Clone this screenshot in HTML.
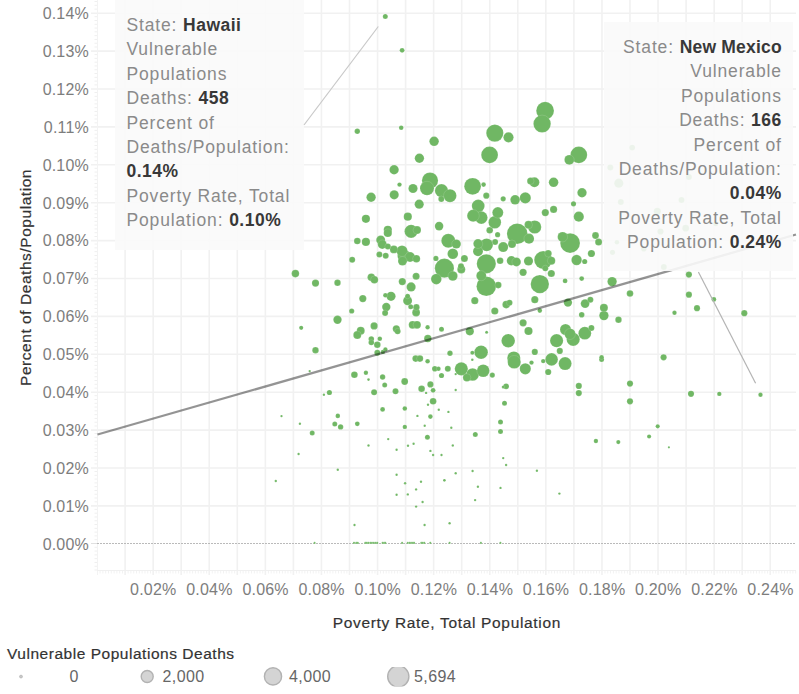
<!DOCTYPE html>
<html><head><meta charset="utf-8"><style>
*{margin:0;padding:0;box-sizing:border-box}
html,body{width:799px;height:694px;background:#fff;overflow:hidden;font-family:"Liberation Sans",sans-serif}
svg{position:absolute;left:0;top:0}
.yt{position:absolute;left:0;width:89px;text-align:right;font-size:16px;line-height:18px;color:#7d7d7d;letter-spacing:0.2px}
.xt{position:absolute;top:580.5px;width:80px;text-align:center;font-size:16px;line-height:18px;color:#7d7d7d;letter-spacing:0.2px}
.tt{position:absolute;background:rgba(249,249,249,0.9);font-size:17.5px;line-height:24.4px;color:#8a8a8a;white-space:nowrap;letter-spacing:0.85px}
.tt b{color:#383838;font-weight:bold;letter-spacing:0.5px}
.lg{position:absolute;top:668.1px;font-size:16px;line-height:18px;color:#666;letter-spacing:0.4px}
.ti{position:absolute;font-size:15.5px;line-height:20px;color:#333;white-space:nowrap;letter-spacing:0.6px;-webkit-text-stroke:0.2px #333}
</style></head><body>
<svg width="799" height="694">
<g stroke="#f1f1f1" stroke-width="1.6"><line x1="125.1" y1="0" x2="125.1" y2="575"/><line x1="153.15" y1="0" x2="153.15" y2="575"/><line x1="181.2" y1="0" x2="181.2" y2="575"/><line x1="209.25" y1="0" x2="209.25" y2="575"/><line x1="237.3" y1="0" x2="237.3" y2="575"/><line x1="265.35" y1="0" x2="265.35" y2="575"/><line x1="293.4" y1="0" x2="293.4" y2="575"/><line x1="321.45" y1="0" x2="321.45" y2="575"/><line x1="349.5" y1="0" x2="349.5" y2="575"/><line x1="377.55" y1="0" x2="377.55" y2="575"/><line x1="405.6" y1="0" x2="405.6" y2="575"/><line x1="433.65" y1="0" x2="433.65" y2="575"/><line x1="461.7" y1="0" x2="461.7" y2="575"/><line x1="489.75" y1="0" x2="489.75" y2="575"/><line x1="517.8" y1="0" x2="517.8" y2="575"/><line x1="545.85" y1="0" x2="545.85" y2="575"/><line x1="573.9" y1="0" x2="573.9" y2="575"/><line x1="601.95" y1="0" x2="601.95" y2="575"/><line x1="630.0" y1="0" x2="630.0" y2="575"/><line x1="658.05" y1="0" x2="658.05" y2="575"/><line x1="686.1" y1="0" x2="686.1" y2="575"/><line x1="714.15" y1="0" x2="714.15" y2="575"/><line x1="742.2" y1="0" x2="742.2" y2="575"/><line x1="770.25" y1="0" x2="770.25" y2="575"/><line x1="91" y1="505.9" x2="796" y2="505.9"/><line x1="91" y1="468.0" x2="796" y2="468.0"/><line x1="91" y1="430.1" x2="796" y2="430.1"/><line x1="91" y1="392.2" x2="796" y2="392.2"/><line x1="91" y1="354.3" x2="796" y2="354.3"/><line x1="91" y1="316.4" x2="796" y2="316.4"/><line x1="91" y1="278.5" x2="796" y2="278.5"/><line x1="91" y1="240.6" x2="796" y2="240.6"/><line x1="91" y1="202.7" x2="796" y2="202.7"/><line x1="91" y1="164.8" x2="796" y2="164.8"/><line x1="91" y1="126.9" x2="796" y2="126.9"/><line x1="91" y1="89.0" x2="796" y2="89.0"/><line x1="91" y1="51.1" x2="796" y2="51.1"/><line x1="91" y1="13.2" x2="796" y2="13.2"/></g>
<line x1="97.5" y1="0" x2="97.5" y2="575" stroke="#f3f3f3" stroke-width="1"/><g stroke="#efefef" stroke-width="1"><line x1="94.5" y1="570.03" x2="97" y2="570.03"/><line x1="94.5" y1="566.24" x2="97" y2="566.24"/><line x1="94.5" y1="562.45" x2="97" y2="562.45"/><line x1="94.5" y1="558.66" x2="97" y2="558.66"/><line x1="94.5" y1="554.87" x2="97" y2="554.87"/><line x1="94.5" y1="551.08" x2="97" y2="551.08"/><line x1="94.5" y1="547.29" x2="97" y2="547.29"/><line x1="94.5" y1="539.71" x2="97" y2="539.71"/><line x1="94.5" y1="535.92" x2="97" y2="535.92"/><line x1="94.5" y1="532.13" x2="97" y2="532.13"/><line x1="94.5" y1="528.34" x2="97" y2="528.34"/><line x1="94.5" y1="524.55" x2="97" y2="524.55"/><line x1="94.5" y1="520.76" x2="97" y2="520.76"/><line x1="94.5" y1="516.97" x2="97" y2="516.97"/><line x1="94.5" y1="513.18" x2="97" y2="513.18"/><line x1="94.5" y1="509.39" x2="97" y2="509.39"/><line x1="94.5" y1="501.81" x2="97" y2="501.81"/><line x1="94.5" y1="498.02" x2="97" y2="498.02"/><line x1="94.5" y1="494.23" x2="97" y2="494.23"/><line x1="94.5" y1="490.44" x2="97" y2="490.44"/><line x1="94.5" y1="486.65" x2="97" y2="486.65"/><line x1="94.5" y1="482.86" x2="97" y2="482.86"/><line x1="94.5" y1="479.07" x2="97" y2="479.07"/><line x1="94.5" y1="475.28" x2="97" y2="475.28"/><line x1="94.5" y1="471.49" x2="97" y2="471.49"/><line x1="94.5" y1="463.91" x2="97" y2="463.91"/><line x1="94.5" y1="460.12" x2="97" y2="460.12"/><line x1="94.5" y1="456.33" x2="97" y2="456.33"/><line x1="94.5" y1="452.54" x2="97" y2="452.54"/><line x1="94.5" y1="448.75" x2="97" y2="448.75"/><line x1="94.5" y1="444.96" x2="97" y2="444.96"/><line x1="94.5" y1="441.17" x2="97" y2="441.17"/><line x1="94.5" y1="437.38" x2="97" y2="437.38"/><line x1="94.5" y1="433.59" x2="97" y2="433.59"/><line x1="94.5" y1="426.01" x2="97" y2="426.01"/><line x1="94.5" y1="422.22" x2="97" y2="422.22"/><line x1="94.5" y1="418.43" x2="97" y2="418.43"/><line x1="94.5" y1="414.64" x2="97" y2="414.64"/><line x1="94.5" y1="410.85" x2="97" y2="410.85"/><line x1="94.5" y1="407.06" x2="97" y2="407.06"/><line x1="94.5" y1="403.27" x2="97" y2="403.27"/><line x1="94.5" y1="399.48" x2="97" y2="399.48"/><line x1="94.5" y1="395.69" x2="97" y2="395.69"/><line x1="94.5" y1="388.11" x2="97" y2="388.11"/><line x1="94.5" y1="384.32" x2="97" y2="384.32"/><line x1="94.5" y1="380.53" x2="97" y2="380.53"/><line x1="94.5" y1="376.74" x2="97" y2="376.74"/><line x1="94.5" y1="372.95" x2="97" y2="372.95"/><line x1="94.5" y1="369.16" x2="97" y2="369.16"/><line x1="94.5" y1="365.37" x2="97" y2="365.37"/><line x1="94.5" y1="361.58" x2="97" y2="361.58"/><line x1="94.5" y1="357.79" x2="97" y2="357.79"/><line x1="94.5" y1="350.21" x2="97" y2="350.21"/><line x1="94.5" y1="346.42" x2="97" y2="346.42"/><line x1="94.5" y1="342.63" x2="97" y2="342.63"/><line x1="94.5" y1="338.84" x2="97" y2="338.84"/><line x1="94.5" y1="335.05" x2="97" y2="335.05"/><line x1="94.5" y1="331.26" x2="97" y2="331.26"/><line x1="94.5" y1="327.47" x2="97" y2="327.47"/><line x1="94.5" y1="323.68" x2="97" y2="323.68"/><line x1="94.5" y1="319.89" x2="97" y2="319.89"/><line x1="94.5" y1="312.31" x2="97" y2="312.31"/><line x1="94.5" y1="308.52" x2="97" y2="308.52"/><line x1="94.5" y1="304.73" x2="97" y2="304.73"/><line x1="94.5" y1="300.94" x2="97" y2="300.94"/><line x1="94.5" y1="297.15" x2="97" y2="297.15"/><line x1="94.5" y1="293.36" x2="97" y2="293.36"/><line x1="94.5" y1="289.57" x2="97" y2="289.57"/><line x1="94.5" y1="285.78" x2="97" y2="285.78"/><line x1="94.5" y1="281.99" x2="97" y2="281.99"/><line x1="94.5" y1="274.41" x2="97" y2="274.41"/><line x1="94.5" y1="270.62" x2="97" y2="270.62"/><line x1="94.5" y1="266.83" x2="97" y2="266.83"/><line x1="94.5" y1="263.04" x2="97" y2="263.04"/><line x1="94.5" y1="259.25" x2="97" y2="259.25"/><line x1="94.5" y1="255.46" x2="97" y2="255.46"/><line x1="94.5" y1="251.67" x2="97" y2="251.67"/><line x1="94.5" y1="247.88" x2="97" y2="247.88"/><line x1="94.5" y1="244.09" x2="97" y2="244.09"/><line x1="94.5" y1="236.51" x2="97" y2="236.51"/><line x1="94.5" y1="232.72" x2="97" y2="232.72"/><line x1="94.5" y1="228.93" x2="97" y2="228.93"/><line x1="94.5" y1="225.14" x2="97" y2="225.14"/><line x1="94.5" y1="221.35" x2="97" y2="221.35"/><line x1="94.5" y1="217.56" x2="97" y2="217.56"/><line x1="94.5" y1="213.77" x2="97" y2="213.77"/><line x1="94.5" y1="209.98" x2="97" y2="209.98"/><line x1="94.5" y1="206.19" x2="97" y2="206.19"/><line x1="94.5" y1="198.61" x2="97" y2="198.61"/><line x1="94.5" y1="194.82" x2="97" y2="194.82"/><line x1="94.5" y1="191.03" x2="97" y2="191.03"/><line x1="94.5" y1="187.24" x2="97" y2="187.24"/><line x1="94.5" y1="183.45" x2="97" y2="183.45"/><line x1="94.5" y1="179.66" x2="97" y2="179.66"/><line x1="94.5" y1="175.87" x2="97" y2="175.87"/><line x1="94.5" y1="172.08" x2="97" y2="172.08"/><line x1="94.5" y1="168.29" x2="97" y2="168.29"/><line x1="94.5" y1="160.71" x2="97" y2="160.71"/><line x1="94.5" y1="156.92" x2="97" y2="156.92"/><line x1="94.5" y1="153.13" x2="97" y2="153.13"/><line x1="94.5" y1="149.34" x2="97" y2="149.34"/><line x1="94.5" y1="145.55" x2="97" y2="145.55"/><line x1="94.5" y1="141.76" x2="97" y2="141.76"/><line x1="94.5" y1="137.97" x2="97" y2="137.97"/><line x1="94.5" y1="134.18" x2="97" y2="134.18"/><line x1="94.5" y1="130.39" x2="97" y2="130.39"/><line x1="94.5" y1="122.81" x2="97" y2="122.81"/><line x1="94.5" y1="119.02" x2="97" y2="119.02"/><line x1="94.5" y1="115.23" x2="97" y2="115.23"/><line x1="94.5" y1="111.44" x2="97" y2="111.44"/><line x1="94.5" y1="107.65" x2="97" y2="107.65"/><line x1="94.5" y1="103.86" x2="97" y2="103.86"/><line x1="94.5" y1="100.07" x2="97" y2="100.07"/><line x1="94.5" y1="96.28" x2="97" y2="96.28"/><line x1="94.5" y1="92.49" x2="97" y2="92.49"/><line x1="94.5" y1="84.91" x2="97" y2="84.91"/><line x1="94.5" y1="81.12" x2="97" y2="81.12"/><line x1="94.5" y1="77.33" x2="97" y2="77.33"/><line x1="94.5" y1="73.54" x2="97" y2="73.54"/><line x1="94.5" y1="69.75" x2="97" y2="69.75"/><line x1="94.5" y1="65.96" x2="97" y2="65.96"/><line x1="94.5" y1="62.17" x2="97" y2="62.17"/><line x1="94.5" y1="58.38" x2="97" y2="58.38"/><line x1="94.5" y1="54.59" x2="97" y2="54.59"/><line x1="94.5" y1="47.01" x2="97" y2="47.01"/><line x1="94.5" y1="43.22" x2="97" y2="43.22"/><line x1="94.5" y1="39.43" x2="97" y2="39.43"/><line x1="94.5" y1="35.64" x2="97" y2="35.64"/><line x1="94.5" y1="31.85" x2="97" y2="31.85"/><line x1="94.5" y1="28.06" x2="97" y2="28.06"/><line x1="94.5" y1="24.27" x2="97" y2="24.27"/><line x1="94.5" y1="20.48" x2="97" y2="20.48"/><line x1="94.5" y1="16.69" x2="97" y2="16.69"/><line x1="94.5" y1="9.11" x2="97" y2="9.11"/><line x1="94.5" y1="5.32" x2="97" y2="5.32"/><line x1="94.5" y1="1.53" x2="97" y2="1.53"/></g>
<line x1="97" y1="570.5" x2="796" y2="570.5" stroke="#f0f0f0" stroke-width="1"/><g stroke="#f2f2f2" stroke-width="1"><line x1="100.06" y1="571" x2="100.06" y2="573.5"/><line x1="102.86" y1="571" x2="102.86" y2="573.5"/><line x1="105.67" y1="571" x2="105.67" y2="573.5"/><line x1="108.47" y1="571" x2="108.47" y2="573.5"/><line x1="111.28" y1="571" x2="111.28" y2="573.5"/><line x1="114.08" y1="571" x2="114.08" y2="573.5"/><line x1="116.88" y1="571" x2="116.88" y2="573.5"/><line x1="119.69" y1="571" x2="119.69" y2="573.5"/><line x1="122.50" y1="571" x2="122.50" y2="573.5"/><line x1="128.10" y1="571" x2="128.10" y2="573.5"/><line x1="130.91" y1="571" x2="130.91" y2="573.5"/><line x1="133.72" y1="571" x2="133.72" y2="573.5"/><line x1="136.52" y1="571" x2="136.52" y2="573.5"/><line x1="139.32" y1="571" x2="139.32" y2="573.5"/><line x1="142.13" y1="571" x2="142.13" y2="573.5"/><line x1="144.94" y1="571" x2="144.94" y2="573.5"/><line x1="147.74" y1="571" x2="147.74" y2="573.5"/><line x1="150.55" y1="571" x2="150.55" y2="573.5"/><line x1="156.16" y1="571" x2="156.16" y2="573.5"/><line x1="158.96" y1="571" x2="158.96" y2="573.5"/><line x1="161.76" y1="571" x2="161.76" y2="573.5"/><line x1="164.57" y1="571" x2="164.57" y2="573.5"/><line x1="167.38" y1="571" x2="167.38" y2="573.5"/><line x1="170.18" y1="571" x2="170.18" y2="573.5"/><line x1="172.99" y1="571" x2="172.99" y2="573.5"/><line x1="175.79" y1="571" x2="175.79" y2="573.5"/><line x1="178.59" y1="571" x2="178.59" y2="573.5"/><line x1="184.21" y1="571" x2="184.21" y2="573.5"/><line x1="187.01" y1="571" x2="187.01" y2="573.5"/><line x1="189.81" y1="571" x2="189.81" y2="573.5"/><line x1="192.62" y1="571" x2="192.62" y2="573.5"/><line x1="195.43" y1="571" x2="195.43" y2="573.5"/><line x1="198.23" y1="571" x2="198.23" y2="573.5"/><line x1="201.04" y1="571" x2="201.04" y2="573.5"/><line x1="203.84" y1="571" x2="203.84" y2="573.5"/><line x1="206.65" y1="571" x2="206.65" y2="573.5"/><line x1="212.25" y1="571" x2="212.25" y2="573.5"/><line x1="215.06" y1="571" x2="215.06" y2="573.5"/><line x1="217.87" y1="571" x2="217.87" y2="573.5"/><line x1="220.67" y1="571" x2="220.67" y2="573.5"/><line x1="223.47" y1="571" x2="223.47" y2="573.5"/><line x1="226.28" y1="571" x2="226.28" y2="573.5"/><line x1="229.09" y1="571" x2="229.09" y2="573.5"/><line x1="231.89" y1="571" x2="231.89" y2="573.5"/><line x1="234.69" y1="571" x2="234.69" y2="573.5"/><line x1="240.31" y1="571" x2="240.31" y2="573.5"/><line x1="243.11" y1="571" x2="243.11" y2="573.5"/><line x1="245.92" y1="571" x2="245.92" y2="573.5"/><line x1="248.72" y1="571" x2="248.72" y2="573.5"/><line x1="251.53" y1="571" x2="251.53" y2="573.5"/><line x1="254.33" y1="571" x2="254.33" y2="573.5"/><line x1="257.13" y1="571" x2="257.13" y2="573.5"/><line x1="259.94" y1="571" x2="259.94" y2="573.5"/><line x1="262.75" y1="571" x2="262.75" y2="573.5"/><line x1="268.36" y1="571" x2="268.36" y2="573.5"/><line x1="271.16" y1="571" x2="271.16" y2="573.5"/><line x1="273.97" y1="571" x2="273.97" y2="573.5"/><line x1="276.77" y1="571" x2="276.77" y2="573.5"/><line x1="279.57" y1="571" x2="279.57" y2="573.5"/><line x1="282.38" y1="571" x2="282.38" y2="573.5"/><line x1="285.19" y1="571" x2="285.19" y2="573.5"/><line x1="287.99" y1="571" x2="287.99" y2="573.5"/><line x1="290.80" y1="571" x2="290.80" y2="573.5"/><line x1="296.40" y1="571" x2="296.40" y2="573.5"/><line x1="299.21" y1="571" x2="299.21" y2="573.5"/><line x1="302.01" y1="571" x2="302.01" y2="573.5"/><line x1="304.82" y1="571" x2="304.82" y2="573.5"/><line x1="307.62" y1="571" x2="307.62" y2="573.5"/><line x1="310.43" y1="571" x2="310.43" y2="573.5"/><line x1="313.24" y1="571" x2="313.24" y2="573.5"/><line x1="316.04" y1="571" x2="316.04" y2="573.5"/><line x1="318.85" y1="571" x2="318.85" y2="573.5"/><line x1="324.46" y1="571" x2="324.46" y2="573.5"/><line x1="327.26" y1="571" x2="327.26" y2="573.5"/><line x1="330.06" y1="571" x2="330.06" y2="573.5"/><line x1="332.87" y1="571" x2="332.87" y2="573.5"/><line x1="335.68" y1="571" x2="335.68" y2="573.5"/><line x1="338.48" y1="571" x2="338.48" y2="573.5"/><line x1="341.28" y1="571" x2="341.28" y2="573.5"/><line x1="344.09" y1="571" x2="344.09" y2="573.5"/><line x1="346.90" y1="571" x2="346.90" y2="573.5"/><line x1="352.50" y1="571" x2="352.50" y2="573.5"/><line x1="355.31" y1="571" x2="355.31" y2="573.5"/><line x1="358.12" y1="571" x2="358.12" y2="573.5"/><line x1="360.92" y1="571" x2="360.92" y2="573.5"/><line x1="363.73" y1="571" x2="363.73" y2="573.5"/><line x1="366.53" y1="571" x2="366.53" y2="573.5"/><line x1="369.33" y1="571" x2="369.33" y2="573.5"/><line x1="372.14" y1="571" x2="372.14" y2="573.5"/><line x1="374.95" y1="571" x2="374.95" y2="573.5"/><line x1="380.56" y1="571" x2="380.56" y2="573.5"/><line x1="383.36" y1="571" x2="383.36" y2="573.5"/><line x1="386.17" y1="571" x2="386.17" y2="573.5"/><line x1="388.97" y1="571" x2="388.97" y2="573.5"/><line x1="391.77" y1="571" x2="391.77" y2="573.5"/><line x1="394.58" y1="571" x2="394.58" y2="573.5"/><line x1="397.38" y1="571" x2="397.38" y2="573.5"/><line x1="400.19" y1="571" x2="400.19" y2="573.5"/><line x1="403.00" y1="571" x2="403.00" y2="573.5"/><line x1="408.61" y1="571" x2="408.61" y2="573.5"/><line x1="411.41" y1="571" x2="411.41" y2="573.5"/><line x1="414.22" y1="571" x2="414.22" y2="573.5"/><line x1="417.02" y1="571" x2="417.02" y2="573.5"/><line x1="419.82" y1="571" x2="419.82" y2="573.5"/><line x1="422.63" y1="571" x2="422.63" y2="573.5"/><line x1="425.44" y1="571" x2="425.44" y2="573.5"/><line x1="428.24" y1="571" x2="428.24" y2="573.5"/><line x1="431.05" y1="571" x2="431.05" y2="573.5"/><line x1="436.66" y1="571" x2="436.66" y2="573.5"/><line x1="439.46" y1="571" x2="439.46" y2="573.5"/><line x1="442.26" y1="571" x2="442.26" y2="573.5"/><line x1="445.07" y1="571" x2="445.07" y2="573.5"/><line x1="447.88" y1="571" x2="447.88" y2="573.5"/><line x1="450.68" y1="571" x2="450.68" y2="573.5"/><line x1="453.49" y1="571" x2="453.49" y2="573.5"/><line x1="456.29" y1="571" x2="456.29" y2="573.5"/><line x1="459.10" y1="571" x2="459.10" y2="573.5"/><line x1="464.71" y1="571" x2="464.71" y2="573.5"/><line x1="467.51" y1="571" x2="467.51" y2="573.5"/><line x1="470.31" y1="571" x2="470.31" y2="573.5"/><line x1="473.12" y1="571" x2="473.12" y2="573.5"/><line x1="475.93" y1="571" x2="475.93" y2="573.5"/><line x1="478.73" y1="571" x2="478.73" y2="573.5"/><line x1="481.53" y1="571" x2="481.53" y2="573.5"/><line x1="484.34" y1="571" x2="484.34" y2="573.5"/><line x1="487.15" y1="571" x2="487.15" y2="573.5"/><line x1="492.75" y1="571" x2="492.75" y2="573.5"/><line x1="495.56" y1="571" x2="495.56" y2="573.5"/><line x1="498.37" y1="571" x2="498.37" y2="573.5"/><line x1="501.17" y1="571" x2="501.17" y2="573.5"/><line x1="503.98" y1="571" x2="503.98" y2="573.5"/><line x1="506.78" y1="571" x2="506.78" y2="573.5"/><line x1="509.59" y1="571" x2="509.59" y2="573.5"/><line x1="512.39" y1="571" x2="512.39" y2="573.5"/><line x1="515.19" y1="571" x2="515.19" y2="573.5"/><line x1="520.81" y1="571" x2="520.81" y2="573.5"/><line x1="523.61" y1="571" x2="523.61" y2="573.5"/><line x1="526.42" y1="571" x2="526.42" y2="573.5"/><line x1="529.22" y1="571" x2="529.22" y2="573.5"/><line x1="532.02" y1="571" x2="532.02" y2="573.5"/><line x1="534.83" y1="571" x2="534.83" y2="573.5"/><line x1="537.63" y1="571" x2="537.63" y2="573.5"/><line x1="540.44" y1="571" x2="540.44" y2="573.5"/><line x1="543.25" y1="571" x2="543.25" y2="573.5"/><line x1="548.86" y1="571" x2="548.86" y2="573.5"/><line x1="551.66" y1="571" x2="551.66" y2="573.5"/><line x1="554.47" y1="571" x2="554.47" y2="573.5"/><line x1="557.27" y1="571" x2="557.27" y2="573.5"/><line x1="560.08" y1="571" x2="560.08" y2="573.5"/><line x1="562.88" y1="571" x2="562.88" y2="573.5"/><line x1="565.69" y1="571" x2="565.69" y2="573.5"/><line x1="568.49" y1="571" x2="568.49" y2="573.5"/><line x1="571.29" y1="571" x2="571.29" y2="573.5"/><line x1="576.90" y1="571" x2="576.90" y2="573.5"/><line x1="579.71" y1="571" x2="579.71" y2="573.5"/><line x1="582.52" y1="571" x2="582.52" y2="573.5"/><line x1="585.32" y1="571" x2="585.32" y2="573.5"/><line x1="588.12" y1="571" x2="588.12" y2="573.5"/><line x1="590.93" y1="571" x2="590.93" y2="573.5"/><line x1="593.74" y1="571" x2="593.74" y2="573.5"/><line x1="596.54" y1="571" x2="596.54" y2="573.5"/><line x1="599.35" y1="571" x2="599.35" y2="573.5"/><line x1="604.96" y1="571" x2="604.96" y2="573.5"/><line x1="607.76" y1="571" x2="607.76" y2="573.5"/><line x1="610.57" y1="571" x2="610.57" y2="573.5"/><line x1="613.37" y1="571" x2="613.37" y2="573.5"/><line x1="616.17" y1="571" x2="616.17" y2="573.5"/><line x1="618.98" y1="571" x2="618.98" y2="573.5"/><line x1="621.79" y1="571" x2="621.79" y2="573.5"/><line x1="624.59" y1="571" x2="624.59" y2="573.5"/><line x1="627.39" y1="571" x2="627.39" y2="573.5"/><line x1="633.00" y1="571" x2="633.00" y2="573.5"/><line x1="635.81" y1="571" x2="635.81" y2="573.5"/><line x1="638.62" y1="571" x2="638.62" y2="573.5"/><line x1="641.42" y1="571" x2="641.42" y2="573.5"/><line x1="644.23" y1="571" x2="644.23" y2="573.5"/><line x1="647.03" y1="571" x2="647.03" y2="573.5"/><line x1="649.84" y1="571" x2="649.84" y2="573.5"/><line x1="652.64" y1="571" x2="652.64" y2="573.5"/><line x1="655.44" y1="571" x2="655.44" y2="573.5"/><line x1="661.06" y1="571" x2="661.06" y2="573.5"/><line x1="663.86" y1="571" x2="663.86" y2="573.5"/><line x1="666.67" y1="571" x2="666.67" y2="573.5"/><line x1="669.47" y1="571" x2="669.47" y2="573.5"/><line x1="672.27" y1="571" x2="672.27" y2="573.5"/><line x1="675.08" y1="571" x2="675.08" y2="573.5"/><line x1="677.88" y1="571" x2="677.88" y2="573.5"/><line x1="680.69" y1="571" x2="680.69" y2="573.5"/><line x1="683.50" y1="571" x2="683.50" y2="573.5"/><line x1="689.11" y1="571" x2="689.11" y2="573.5"/><line x1="691.91" y1="571" x2="691.91" y2="573.5"/><line x1="694.72" y1="571" x2="694.72" y2="573.5"/><line x1="697.52" y1="571" x2="697.52" y2="573.5"/><line x1="700.33" y1="571" x2="700.33" y2="573.5"/><line x1="703.13" y1="571" x2="703.13" y2="573.5"/><line x1="705.94" y1="571" x2="705.94" y2="573.5"/><line x1="708.74" y1="571" x2="708.74" y2="573.5"/><line x1="711.54" y1="571" x2="711.54" y2="573.5"/><line x1="717.15" y1="571" x2="717.15" y2="573.5"/><line x1="719.96" y1="571" x2="719.96" y2="573.5"/><line x1="722.77" y1="571" x2="722.77" y2="573.5"/><line x1="725.57" y1="571" x2="725.57" y2="573.5"/><line x1="728.38" y1="571" x2="728.38" y2="573.5"/><line x1="731.18" y1="571" x2="731.18" y2="573.5"/><line x1="733.99" y1="571" x2="733.99" y2="573.5"/><line x1="736.79" y1="571" x2="736.79" y2="573.5"/><line x1="739.60" y1="571" x2="739.60" y2="573.5"/><line x1="745.21" y1="571" x2="745.21" y2="573.5"/><line x1="748.01" y1="571" x2="748.01" y2="573.5"/><line x1="750.82" y1="571" x2="750.82" y2="573.5"/><line x1="753.62" y1="571" x2="753.62" y2="573.5"/><line x1="756.42" y1="571" x2="756.42" y2="573.5"/><line x1="759.23" y1="571" x2="759.23" y2="573.5"/><line x1="762.04" y1="571" x2="762.04" y2="573.5"/><line x1="764.84" y1="571" x2="764.84" y2="573.5"/><line x1="767.64" y1="571" x2="767.64" y2="573.5"/><line x1="773.25" y1="571" x2="773.25" y2="573.5"/><line x1="776.06" y1="571" x2="776.06" y2="573.5"/><line x1="778.87" y1="571" x2="778.87" y2="573.5"/><line x1="781.67" y1="571" x2="781.67" y2="573.5"/><line x1="784.48" y1="571" x2="784.48" y2="573.5"/><line x1="787.28" y1="571" x2="787.28" y2="573.5"/><line x1="790.09" y1="571" x2="790.09" y2="573.5"/><line x1="792.89" y1="571" x2="792.89" y2="573.5"/><line x1="795.69" y1="571" x2="795.69" y2="573.5"/></g>
<line x1="91" y1="543.5" x2="97" y2="543.5" stroke="#e0e0e0" stroke-width="1"/>
<line x1="97" y1="543.5" x2="796" y2="543.5" stroke="#bababa" stroke-width="1.1" stroke-dasharray="2,1"/>
<g fill="#70b764" stroke="rgba(255,255,255,0.22)" stroke-width="0.6"><circle cx="517.2" cy="233.7" r="10.3"/><circle cx="570.1" cy="243.1" r="9.9"/><circle cx="486.3" cy="286.3" r="9.8"/><circle cx="444.4" cy="268.2" r="9.6"/><circle cx="486.3" cy="263.8" r="9.6"/><circle cx="539.8" cy="284.1" r="9.2"/><circle cx="543.2" cy="260" r="9.0"/><circle cx="545.1" cy="110.7" r="8.9"/><circle cx="542.1" cy="123.8" r="8.7"/><circle cx="494.8" cy="133.1" r="8.6"/><circle cx="489.6" cy="154.9" r="8.4"/><circle cx="578.8" cy="154.9" r="8.4"/><circle cx="472.6" cy="186.3" r="8.4"/><circle cx="430" cy="180.6" r="8.1"/><circle cx="427" cy="188.3" r="7.0"/><circle cx="448.3" cy="240.8" r="7.0"/><circle cx="508.2" cy="340.7" r="6.8"/><circle cx="481.1" cy="352.2" r="6.8"/><circle cx="411.1" cy="231.3" r="6.6"/><circle cx="441.5" cy="190.7" r="6.6"/><circle cx="534.7" cy="227" r="6.6"/><circle cx="513.8" cy="358" r="6.6"/><circle cx="514.2" cy="362" r="6.6"/><circle cx="461.3" cy="368.8" r="6.6"/><circle cx="556.6" cy="340.7" r="6.6"/><circle cx="573.2" cy="339.4" r="6.6"/><circle cx="450" cy="195.7" r="6.5"/><circle cx="404" cy="256" r="6.5"/><circle cx="565.1" cy="363.6" r="6.5"/><circle cx="478.2" cy="206" r="6.4"/><circle cx="486.6" cy="244.8" r="6.4"/><circle cx="584.8" cy="333.2" r="6.4"/><circle cx="481.3" cy="217.6" r="6.3"/><circle cx="494.8" cy="222.3" r="6.3"/><circle cx="472.6" cy="374.5" r="6.3"/><circle cx="483.2" cy="370.7" r="6.3"/><circle cx="551.6" cy="359.4" r="6.3"/><circle cx="473.2" cy="215.7" r="6.1"/><circle cx="525.3" cy="197.9" r="5.6"/><circle cx="525.3" cy="368.8" r="5.6"/><circle cx="497.8" cy="212.6" r="5.5"/><circle cx="402" cy="251" r="5.5"/><circle cx="565.5" cy="329.5" r="5.5"/><circle cx="570" cy="334" r="5.5"/><circle cx="452.8" cy="253.8" r="5.3"/><circle cx="436.3" cy="279.1" r="5.3"/><circle cx="576.6" cy="260" r="5.2"/><circle cx="508.5" cy="137.3" r="5.1"/><circle cx="578.8" cy="216.7" r="5.1"/><circle cx="529" cy="238.7" r="5.1"/><circle cx="534.4" cy="182.3" r="5.0"/><circle cx="410" cy="257" r="5.0"/><circle cx="478" cy="251.3" r="5.0"/><circle cx="503.2" cy="247.1" r="5.0"/><circle cx="481.3" cy="275.7" r="5.0"/><circle cx="562.6" cy="236.9" r="5.0"/><circle cx="569.3" cy="159.8" r="4.9"/><circle cx="515.1" cy="199.8" r="4.8"/><circle cx="553.6" cy="182.3" r="4.8"/><circle cx="452.8" cy="276" r="4.8"/><circle cx="434.1" cy="141.3" r="4.75"/><circle cx="419.4" cy="158.2" r="4.7"/><circle cx="394.1" cy="169.8" r="4.7"/><circle cx="371.1" cy="197.2" r="4.7"/><circle cx="582" cy="192.8" r="4.7"/><circle cx="478" cy="243.8" r="4.7"/><circle cx="511.4" cy="260.7" r="4.7"/><circle cx="603.9" cy="315.6" r="4.7"/><circle cx="612.1" cy="281.6" r="4.7"/><circle cx="413" cy="188.5" r="4.6"/><circle cx="394.2" cy="194.8" r="4.6"/><circle cx="419.2" cy="204.2" r="4.6"/><circle cx="411.1" cy="286.9" r="4.6"/><circle cx="391" cy="296.3" r="4.6"/><circle cx="456.3" cy="244" r="4.6"/><circle cx="528.5" cy="261" r="4.6"/><circle cx="618.8" cy="183.2" r="4.6"/><circle cx="380.7" cy="240" r="4.5"/><circle cx="382.3" cy="244.4" r="4.5"/><circle cx="402.5" cy="261" r="4.5"/><circle cx="407.6" cy="300.7" r="4.5"/><circle cx="516.4" cy="261.9" r="4.5"/><circle cx="585.1" cy="303.6" r="4.4"/><circle cx="439.1" cy="226.1" r="4.3"/><circle cx="386.3" cy="307" r="4.2"/><circle cx="567.9" cy="302.6" r="4.2"/><circle cx="337.5" cy="319.8" r="4.2"/><circle cx="365.9" cy="218.8" r="4.1"/><circle cx="407.8" cy="216.7" r="4.1"/><circle cx="387.8" cy="229.8" r="4.1"/><circle cx="387.8" cy="233" r="4.1"/><circle cx="365.9" cy="241.9" r="4.1"/><circle cx="469.8" cy="331.3" r="4.1"/><circle cx="528.5" cy="331" r="4.1"/><circle cx="417" cy="230.1" r="4.0"/><circle cx="528.5" cy="224.8" r="4.0"/><circle cx="461.3" cy="269.4" r="4.0"/><circle cx="512" cy="244" r="4.0"/><circle cx="551.3" cy="260.7" r="4.0"/><circle cx="603.9" cy="307.8" r="4.0"/><circle cx="360.7" cy="330.7" r="4.0"/><circle cx="357.3" cy="335" r="4.0"/><circle cx="466.9" cy="377.6" r="4.0"/><circle cx="393.8" cy="249.4" r="3.9"/><circle cx="416.1" cy="312.5" r="3.9"/><circle cx="412.6" cy="324.8" r="3.9"/><circle cx="417" cy="324.8" r="3.9"/><circle cx="416.4" cy="258.8" r="3.8"/><circle cx="371.3" cy="277.2" r="3.8"/><circle cx="374.4" cy="279.7" r="3.8"/><circle cx="506.2" cy="304.6" r="3.8"/><circle cx="295.4" cy="273.6" r="3.8"/><circle cx="427.8" cy="338.5" r="3.7"/><circle cx="553.6" cy="209.4" r="3.6"/><circle cx="545.3" cy="212.6" r="3.6"/><circle cx="402.3" cy="281.6" r="3.6"/><circle cx="362.8" cy="298.6" r="3.6"/><circle cx="474.8" cy="300.7" r="3.6"/><circle cx="591.4" cy="253.5" r="3.6"/><circle cx="523.1" cy="272.3" r="3.6"/><circle cx="551.3" cy="273.5" r="3.6"/><circle cx="534.8" cy="299.7" r="3.6"/><circle cx="374.1" cy="325.9" r="3.6"/><circle cx="396.3" cy="328.8" r="3.6"/><circle cx="494.8" cy="311" r="3.6"/><circle cx="523.1" cy="322.8" r="3.6"/><circle cx="315.5" cy="283.1" r="3.6"/><circle cx="657.3" cy="211.3" r="3.6"/><circle cx="530.6" cy="181" r="3.5"/><circle cx="416.1" cy="276.3" r="3.5"/><circle cx="464.4" cy="258.5" r="3.5"/><circle cx="598.6" cy="242.1" r="3.5"/><circle cx="548.2" cy="253.5" r="3.5"/><circle cx="595.5" cy="235.5" r="3.4"/><circle cx="404.7" cy="381.5" r="3.4"/><circle cx="685.7" cy="228.2" r="3.4"/><circle cx="489.7" cy="230.3" r="3.3"/><circle cx="357.3" cy="241" r="3.3"/><circle cx="498.2" cy="285.1" r="3.3"/><circle cx="500.1" cy="260.7" r="3.3"/><circle cx="377.3" cy="344.8" r="3.3"/><circle cx="415.7" cy="358.6" r="3.3"/><circle cx="419.9" cy="358.6" r="3.3"/><circle cx="354.4" cy="374.8" r="3.3"/><circle cx="421.6" cy="388.8" r="3.3"/><circle cx="433.1" cy="401.3" r="3.3"/><circle cx="630" cy="293.5" r="3.3"/><circle cx="337.5" cy="282.8" r="3.2"/><circle cx="416.4" cy="307.3" r="3.2"/><circle cx="315.5" cy="350.2" r="3.2"/><circle cx="618.5" cy="319.7" r="3.2"/><circle cx="486.3" cy="195.7" r="3.1"/><circle cx="559.8" cy="350.9" r="3.1"/><circle cx="534.8" cy="351.9" r="3.1"/><circle cx="548.2" cy="372" r="3.1"/><circle cx="430.4" cy="384.4" r="3.1"/><circle cx="578.8" cy="385.9" r="3.1"/><circle cx="578.8" cy="393.1" r="3.1"/><circle cx="688.9" cy="274.6" r="3.1"/><circle cx="688.9" cy="294.7" r="3.1"/><circle cx="697" cy="308.2" r="3.1"/><circle cx="744.3" cy="313.2" r="3.1"/><circle cx="663.6" cy="357.3" r="3.1"/><circle cx="630" cy="383.6" r="3.1"/><circle cx="630" cy="401.3" r="3.1"/><circle cx="691" cy="393.8" r="3.1"/><circle cx="660.5" cy="231.5" r="3.1"/><circle cx="441.3" cy="199" r="3.0"/><circle cx="387.8" cy="246.5" r="3.0"/><circle cx="379.4" cy="254.6" r="3.0"/><circle cx="385.7" cy="255.7" r="3.0"/><circle cx="352.2" cy="259.8" r="3.0"/><circle cx="461" cy="266.3" r="3.0"/><circle cx="495.1" cy="241.9" r="3.0"/><circle cx="509.5" cy="302.8" r="3.0"/><circle cx="545.3" cy="268.2" r="3.0"/><circle cx="590.4" cy="299.7" r="3.0"/><circle cx="385.1" cy="313" r="3.0"/><circle cx="397.6" cy="331.3" r="3.0"/><circle cx="377.3" cy="352.8" r="3.0"/><circle cx="447.8" cy="368.8" r="3.0"/><circle cx="591.4" cy="327.9" r="3.0"/><circle cx="374.1" cy="392.3" r="3.0"/><circle cx="395.5" cy="391.3" r="3.0"/><circle cx="610.3" cy="167.4" r="3.0"/><circle cx="688.9" cy="176.9" r="3.0"/><circle cx="620.8" cy="202" r="3.0"/><circle cx="681.5" cy="200" r="3.0"/><circle cx="663.8" cy="267" r="3.0"/><circle cx="506.1" cy="386.3" r="2.9"/><circle cx="632.2" cy="147.6" r="2.9"/><circle cx="371.3" cy="339" r="2.8"/><circle cx="371.3" cy="342.5" r="2.8"/><circle cx="434.8" cy="368.8" r="2.8"/><circle cx="581.7" cy="314.8" r="2.8"/><circle cx="643.8" cy="248.8" r="2.8"/><circle cx="357.3" cy="131.3" r="2.7"/><circle cx="382.6" cy="377" r="2.7"/><circle cx="450" cy="353.2" r="2.7"/><circle cx="340.6" cy="426.9" r="2.7"/><circle cx="503.2" cy="198.8" r="2.6"/><circle cx="497.6" cy="234.7" r="2.6"/><circle cx="573.5" cy="203.8" r="2.6"/><circle cx="435.9" cy="258.4" r="2.6"/><circle cx="584.7" cy="261.5" r="2.6"/><circle cx="351.7" cy="311" r="2.6"/><circle cx="441.5" cy="375.5" r="2.6"/><circle cx="492.3" cy="375.1" r="2.6"/><circle cx="329.4" cy="392.5" r="2.6"/><circle cx="612.5" cy="252.3" r="2.6"/><circle cx="385.3" cy="16.5" r="2.5"/><circle cx="407.6" cy="296.3" r="2.5"/><circle cx="410.7" cy="306.7" r="2.5"/><circle cx="441.5" cy="329.2" r="2.5"/><circle cx="601.6" cy="359.6" r="2.5"/><circle cx="384.7" cy="385" r="2.5"/><circle cx="334.8" cy="424.1" r="2.5"/><circle cx="427.4" cy="437.2" r="2.5"/><circle cx="504.5" cy="403.2" r="2.5"/><circle cx="500.5" cy="421.9" r="2.5"/><circle cx="500.5" cy="431.6" r="2.5"/><circle cx="475.3" cy="434.4" r="2.5"/><circle cx="312.2" cy="433" r="2.5"/><circle cx="715.7" cy="223.7" r="2.5"/><circle cx="402.1" cy="50.3" r="2.4"/><circle cx="565.1" cy="280.9" r="2.4"/><circle cx="581.7" cy="278.6" r="2.4"/><circle cx="382.6" cy="409.4" r="2.4"/><circle cx="357.3" cy="423.8" r="2.4"/><circle cx="433.1" cy="390.3" r="2.4"/><circle cx="713.9" cy="299.4" r="2.4"/><circle cx="401.2" cy="127.8" r="2.3"/><circle cx="483.6" cy="184.6" r="2.3"/><circle cx="385.4" cy="295.3" r="2.3"/><circle cx="379.8" cy="338.8" r="2.3"/><circle cx="427.6" cy="361.3" r="2.3"/><circle cx="539.8" cy="310.6" r="2.3"/><circle cx="601.6" cy="357.3" r="2.3"/><circle cx="404.8" cy="408.5" r="2.3"/><circle cx="337.8" cy="415.9" r="2.3"/><circle cx="430.4" cy="416.6" r="2.3"/><circle cx="616.9" cy="242.3" r="2.3"/><circle cx="399.5" cy="184.6" r="2.2"/><circle cx="427.6" cy="327.3" r="2.2"/><circle cx="382.9" cy="351.9" r="2.2"/><circle cx="385.4" cy="349.4" r="2.2"/><circle cx="365.9" cy="372.8" r="2.2"/><circle cx="438.5" cy="368.8" r="2.2"/><circle cx="531.5" cy="362.6" r="2.2"/><circle cx="543.2" cy="361.1" r="2.2"/><circle cx="404.8" cy="426.9" r="2.2"/><circle cx="595.9" cy="441" r="2.2"/><circle cx="674.5" cy="312.8" r="2.2"/><circle cx="719.3" cy="393.9" r="2.2"/><circle cx="760.5" cy="394.8" r="2.2"/><circle cx="301.2" cy="327.8" r="2.1"/><circle cx="657.7" cy="426.3" r="2.1"/><circle cx="649.1" cy="436.5" r="2.1"/><circle cx="618.3" cy="442.1" r="2.1"/><circle cx="472.3" cy="352.8" r="2.0"/><circle cx="486.6" cy="332.2" r="1.5"/><circle cx="503.2" cy="386.9" r="1.5"/><circle cx="444.4" cy="480.3" r="1.4"/><circle cx="472.3" cy="359.8" r="1.3"/><circle cx="368.5" cy="379.6" r="1.3"/><circle cx="455.7" cy="374.1" r="1.2"/><circle cx="426.1" cy="392.9" r="1.2"/><circle cx="428" cy="404.7" r="1.2"/><circle cx="417.4" cy="415.9" r="1.2"/><circle cx="424.7" cy="425.7" r="1.2"/><circle cx="388.2" cy="439.1" r="1.2"/><circle cx="413.6" cy="443.8" r="1.2"/><circle cx="408" cy="445.7" r="1.2"/><circle cx="368.5" cy="445.5" r="1.2"/><circle cx="455.7" cy="390" r="1.2"/><circle cx="438.8" cy="409.7" r="1.2"/><circle cx="448.4" cy="411.9" r="1.2"/><circle cx="451.3" cy="427.8" r="1.2"/><circle cx="452.8" cy="445.5" r="1.2"/><circle cx="396.6" cy="449.8" r="1.2"/><circle cx="430.4" cy="450.9" r="1.2"/><circle cx="337.8" cy="469.7" r="1.2"/><circle cx="396.6" cy="474.8" r="1.2"/><circle cx="405.1" cy="483.2" r="1.2"/><circle cx="421" cy="481.7" r="1.2"/><circle cx="416.1" cy="489.4" r="1.2"/><circle cx="396.6" cy="494.7" r="1.2"/><circle cx="407.8" cy="494.4" r="1.2"/><circle cx="422.6" cy="502" r="1.2"/><circle cx="416.1" cy="506.6" r="1.2"/><circle cx="433.1" cy="455" r="1.2"/><circle cx="441.5" cy="455" r="1.2"/><circle cx="503.2" cy="458.1" r="1.2"/><circle cx="506.1" cy="465" r="1.2"/><circle cx="455.7" cy="473.2" r="1.2"/><circle cx="472.6" cy="471" r="1.2"/><circle cx="477.9" cy="486.7" r="1.2"/><circle cx="500.5" cy="487.9" r="1.2"/><circle cx="475.1" cy="500.1" r="1.2"/><circle cx="536.9" cy="470.7" r="1.2"/><circle cx="559.4" cy="493.6" r="1.2"/><circle cx="354.5" cy="525" r="1.2"/><circle cx="424.6" cy="525" r="1.2"/><circle cx="449.6" cy="523.2" r="1.2"/><circle cx="309.7" cy="371.1" r="1.2"/><circle cx="323.9" cy="394.7" r="1.2"/><circle cx="281.5" cy="416.1" r="1.2"/><circle cx="299.9" cy="423.8" r="1.2"/><circle cx="298.6" cy="454" r="1.2"/><circle cx="275.8" cy="481" r="1.2"/><circle cx="668.9" cy="447.3" r="1.1"/><circle cx="314.6" cy="542.9" r="1.05"/><circle cx="354" cy="542.9" r="1.05"/><circle cx="356.3" cy="542.9" r="1.05"/><circle cx="357.8" cy="542.9" r="1.05"/><circle cx="365.3" cy="542.9" r="1.05"/><circle cx="366.8" cy="542.9" r="1.05"/><circle cx="368.3" cy="542.9" r="1.05"/><circle cx="370.3" cy="542.9" r="1.05"/><circle cx="372" cy="542.9" r="1.05"/><circle cx="373.9" cy="542.9" r="1.05"/><circle cx="375.8" cy="542.9" r="1.05"/><circle cx="377.3" cy="542.9" r="1.05"/><circle cx="382.6" cy="542.9" r="1.05"/><circle cx="384.1" cy="542.9" r="1.05"/><circle cx="385.3" cy="542.9" r="1.05"/><circle cx="402.1" cy="542.9" r="1.05"/><circle cx="407.8" cy="542.9" r="1.05"/><circle cx="409.6" cy="542.9" r="1.05"/><circle cx="411.1" cy="542.9" r="1.05"/><circle cx="412.9" cy="542.9" r="1.05"/><circle cx="414.1" cy="542.9" r="1.05"/><circle cx="421.3" cy="542.9" r="1.05"/><circle cx="422.8" cy="542.9" r="1.05"/><circle cx="424.3" cy="542.9" r="1.05"/><circle cx="430.3" cy="542.9" r="1.05"/><circle cx="449.6" cy="542.9" r="1.05"/><circle cx="480.9" cy="542.9" r="1.05"/><circle cx="500.4" cy="542.9" r="1.05"/></g>
<line x1="97.5" y1="434.5" x2="796" y2="234.5" stroke="rgba(0,0,0,0.42)" stroke-width="2.3"/>
</svg>
<div class="yt" style="top:535.6px">0.00%</div><div class="yt" style="top:497.7px">0.01%</div><div class="yt" style="top:459.8px">0.02%</div><div class="yt" style="top:421.9px">0.03%</div><div class="yt" style="top:384.0px">0.04%</div><div class="yt" style="top:346.1px">0.05%</div><div class="yt" style="top:308.2px">0.06%</div><div class="yt" style="top:270.3px">0.07%</div><div class="yt" style="top:232.4px">0.08%</div><div class="yt" style="top:194.5px">0.09%</div><div class="yt" style="top:156.6px">0.10%</div><div class="yt" style="top:118.7px">0.11%</div><div class="yt" style="top:80.8px">0.12%</div><div class="yt" style="top:42.9px">0.13%</div><div class="yt" style="top:5.0px">0.14%</div>
<div class="xt" style="left:113.3px">0.02%</div><div class="xt" style="left:169.4px">0.04%</div><div class="xt" style="left:225.6px">0.06%</div><div class="xt" style="left:281.6px">0.08%</div><div class="xt" style="left:337.8px">0.10%</div><div class="xt" style="left:393.9px">0.12%</div><div class="xt" style="left:449.9px">0.14%</div><div class="xt" style="left:506.0px">0.16%</div><div class="xt" style="left:562.2px">0.18%</div><div class="xt" style="left:618.2px">0.20%</div><div class="xt" style="left:674.4px">0.22%</div><div class="xt" style="left:730.5px">0.24%</div>
<div class="ti" style="left:332.7px;top:613.3px;letter-spacing:0.67px">Poverty Rate, Total Population</div>
<div class="ti" style="left:15.8px;top:386.3px;letter-spacing:0.55px;transform-origin:0 0;transform:rotate(-90deg)">Percent of Deaths/Population</div>
<div class="tt" style="left:115px;top:0;width:188.5px;height:249.6px;padding:12.9px 0 0 11.5px">State: <b>Hawaii</b><br>Vulnerable<br>Populations<br>Deaths: <b>458</b><br>Percent of<br>Deaths/Population:<br><b>0.14%</b><br>Poverty Rate, Total<br>Population: <b>0.10%</b></div>
<svg width="799" height="694"><line x1="304" y1="125" x2="378.3" y2="26.5" stroke="#c8c8c8" stroke-width="1.2"/><line x1="698.4" y1="271.9" x2="755.6" y2="383.2" stroke="#b4b4b4" stroke-width="1.2"/></svg>
<div class="tt" style="left:603.5px;top:22px;width:189.5px;height:249px;padding:12.9px 11.2px 0 0;text-align:right">State: <b style="letter-spacing:0.2px">New Mexico</b><br>Vulnerable<br>Populations<br>Deaths: <b>166</b><br>Percent of<br>Deaths/Population:<br><b>0.04%</b><br>Poverty Rate, Total<br>Population: <b>0.24%</b></div>
<div class="ti" style="left:7px;top:643.6px;letter-spacing:0.53px">Vulnerable Populations Deaths</div>
<svg width="799" height="694">
<circle cx="21" cy="676.6" r="1.5" fill="#c8c8c8" stroke="#a8a8a8" stroke-width="0.5"/>
<circle cx="147.2" cy="676.5" r="6.0" fill="#d4d4d4" stroke="#b2b2b2" stroke-width="1.4"/>
<circle cx="273" cy="676.4" r="8.6" fill="#d4d4d4" stroke="#b2b2b2" stroke-width="1.4"/>
<clipPath id="lc"><rect x="380" y="667" width="40" height="19.5"/></clipPath>
<circle cx="398.3" cy="676.4" r="10.6" fill="#d4d4d4" stroke="#b2b2b2" stroke-width="1.4" clip-path="url(#lc)"/>
</svg>
<div class="lg" style="left:69.5px">0</div>
<div class="lg" style="left:162.5px">2,000</div>
<div class="lg" style="left:289px">4,000</div>
<div class="lg" style="left:414px">5,694</div>
</body></html>
